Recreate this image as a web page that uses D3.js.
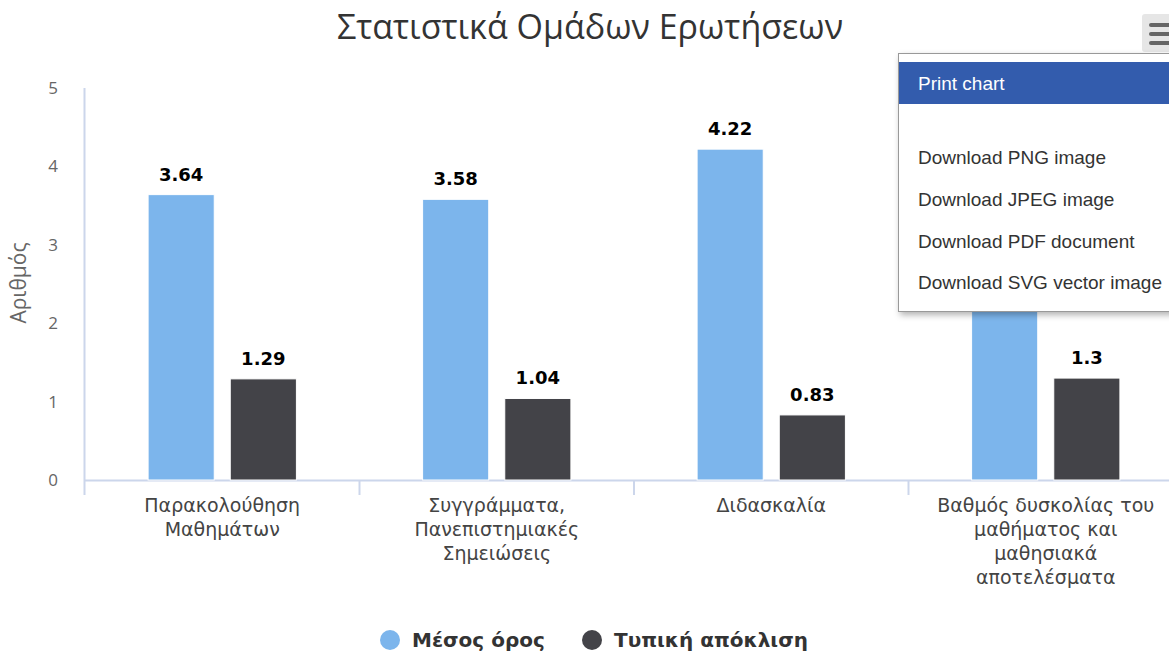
<!DOCTYPE html>
<html>
<head>
<meta charset="utf-8">
<script src="https://cdn.jsdelivr.net/npm/d3@7"></script>
<style>
  body { margin: 0; background: #fff; }
  svg { display: block; font-family: "Open Sans", "DejaVu Sans", sans-serif; }
</style>
</head>
<body>
<svg width="1169" height="652">
  <defs>
    <filter id="shadow" x="-10%" y="-10%" width="130%" height="130%">
      <feDropShadow dx="2" dy="3" stdDeviation="3" flood-color="#000" flood-opacity="0.3"/>
    </filter>
  </defs>
  <g id="vis"></g>
</svg>
<script>
const categories = [
  ['Παρακολούθηση', 'Μαθημάτων'],
  ['Συγγράμματα,', 'Πανεπιστημιακές', 'Σημειώσεις'],
  ['Διδασκαλία'],
  ['Βαθμός δυσκολίας του', 'μαθήματος και', 'μαθησιακά', 'αποτελέσματα']
]
const seriesNames = ['Μέσος όρος', 'Τυπική απόκλιση']
const seriesColors = ['#7cb5ec', '#434348']
// last mean value is hidden behind the export menu in the reference, estimated
const meanValues = [3.64, 3.58, 4.22, 4.25]
const stdValues = [1.29, 1.04, 0.83, 1.3]
const yTicks = [0, 1, 2, 3, 4, 5]
const menuItems = ['Print chart', '', 'Download PNG image', 'Download JPEG image', 'Download PDF document', 'Download SVG vector image']

const svg = d3.select('svg')
const vis = svg.select('#vis')

const plotLeft = 85
const plotRight = 1183
const yScale = d3.scaleLinear()
  .domain([0, 5])
  .range([480, 88])

const xScale = d3.scaleBand()
  .domain(d3.range(categories.length))
  .range([plotLeft, plotRight])

const inner = d3.scaleBand()
  .domain([0, 1])
  .range([0, xScale.bandwidth()])
  .paddingInner(0.195)
  .paddingOuter(0.768)

// title
vis.append('text')
  .attr('x', 590)
  .attr('y', 39)
  .attr('text-anchor', 'middle')
  .style('font-size', '34px')
  .style('fill', '#333333')
  .text('Στατιστικά Ομάδων Ερωτήσεων')

// y axis labels
vis.append('g')
  .selectAll('text')
  .data(yTicks)
  .join('text')
  .attr('x', 58)
  .attr('y', d => yScale(d))
  .attr('dy', '0.35em')
  .attr('text-anchor', 'end')
  .style('font-size', '17px')
  .style('fill', '#666666')
  .text(d => d)

// y axis title
vis.append('text')
  .attr('transform', 'translate(26,283) rotate(-90)')
  .attr('text-anchor', 'middle')
  .style('font-size', '21px')
  .style('fill', '#666666')
  .text('Αριθμός')

// x axis line + ticks
vis.append('line')
  .attr('x1', plotLeft).attr('x2', plotRight)
  .attr('y1', yScale(0) + 0.5).attr('y2', yScale(0) + 0.5)
  .style('stroke', '#ccd6eb')
  .style('stroke-width', 2)

vis.append('line')
  .attr('x1', plotLeft - 0.5).attr('x2', plotLeft - 0.5)
  .attr('y1', yScale(5)).attr('y2', yScale(0) + 15)
  .style('stroke', '#ccd6eb')
  .style('stroke-width', 2)

vis.append('g')
  .selectAll('line')
  .data(d3.range(1, categories.length + 1))
  .join('line')
  .attr('x1', d => plotLeft + d * xScale.step())
  .attr('x2', d => plotLeft + d * xScale.step())
  .attr('y1', yScale(0))
  .attr('y2', yScale(0) + 15)
  .style('stroke', '#ccd6eb')
  .style('stroke-width', 2)

// category labels
const catLabels = vis.append('g')
  .selectAll('text')
  .data(categories)
  .join('text')
  .attr('x', (d, i) => xScale(i) + xScale.bandwidth() / 2)
  .attr('y', 512)
  .attr('text-anchor', 'middle')
  .style('font-family', '"DejaVu Sans", sans-serif')
  .style('font-size', '19px')
  .style('fill', '#444444')

catLabels.selectAll('tspan')
  .data(d => d)
  .join('tspan')
  .attr('x', function () { return d3.select(this.parentNode).attr('x') })
  .attr('dy', (d, i) => i === 0 ? 0 : 24)
  .text(d => d)

// bars
const seriesData = [meanValues, stdValues]
seriesData.forEach((values, s) => {
  const g = vis.append('g')
  g.selectAll('rect')
    .data(values)
    .join('rect')
    .attr('x', (d, i) => xScale(i) + inner(s))
    .attr('width', inner.bandwidth())
    .attr('y', d => yScale(d))
    .attr('height', d => yScale(0) - yScale(d))
    .style('fill', seriesColors[s])
    .style('stroke', '#ffffff')
    .style('stroke-width', 1)

  // data labels
  g.selectAll('text')
    .data(values)
    .join('text')
    .attr('x', (d, i) => xScale(i) + inner(s) + inner.bandwidth() / 2)
    .attr('y', d => yScale(d) - 14)
    .attr('text-anchor', 'middle')
    .style('font-family', '"DejaVu Sans", sans-serif')
    .style('font-size', '18px')
    .style('font-weight', 'bold')
    .style('fill', '#000000')
    .style('stroke', '#ffffff')
    .style('stroke-width', 3)
    .style('paint-order', 'stroke')
    .style('stroke-linejoin', 'round')
    .text(d => d)
})

// legend
const legendX = [390, 592]
const legend = vis.append('g')
  .selectAll('g')
  .data(seriesNames)
  .join('g')
  .attr('transform', (d, i) => `translate(${legendX[i]},640)`)

legend.append('circle')
  .attr('r', 10)
  .style('fill', (d, i) => seriesColors[i])

legend.append('text')
  .attr('x', 22)
  .attr('dy', '0.35em')
  .style('font-family', '"DejaVu Sans", sans-serif')
  .style('font-size', '20px')
  .style('font-weight', 'bold')
  .style('fill', '#333333')
  .text(d => d)

// context button
vis.append('rect')
  .attr('x', 1142).attr('y', 14)
  .attr('width', 40).attr('height', 38)
  .attr('rx', 3)
  .style('fill', '#e6e6e6')

vis.append('g')
  .selectAll('rect')
  .data([0, 1, 2])
  .join('rect')
  .attr('x', 1149)
  .attr('y', d => 23 + d * 9)
  .attr('width', 24)
  .attr('height', 4)
  .attr('rx', 2)
  .style('fill', '#666666')

// export menu
const menu = vis.append('g')
menu.append('rect')
  .attr('x', 898.5).attr('y', 53.5)
  .attr('width', 290).attr('height', 258)
  .style('fill', '#ffffff')
  .style('stroke', '#999999')
  .style('stroke-width', 1)
  .attr('filter', 'url(#shadow)')

menu.append('rect')
  .attr('x', 899).attr('y', 62)
  .attr('width', 290).attr('height', 42)
  .style('fill', '#335cad')

const itemY = [83, 120, 157, 199, 241, 282]
menu.selectAll('text.item')
  .data(menuItems)
  .join('text')
  .attr('class', 'item')
  .attr('x', 918)
  .attr('y', (d, i) => itemY[i])
  .attr('dy', '0.35em')
  .style('font-family', '"Liberation Sans", Arial, sans-serif')
  .style('font-size', '19px')
  .style('fill', (d, i) => i === 0 ? '#ffffff' : '#333333')
  .text(d => d)
</script>
</body>
</html>
